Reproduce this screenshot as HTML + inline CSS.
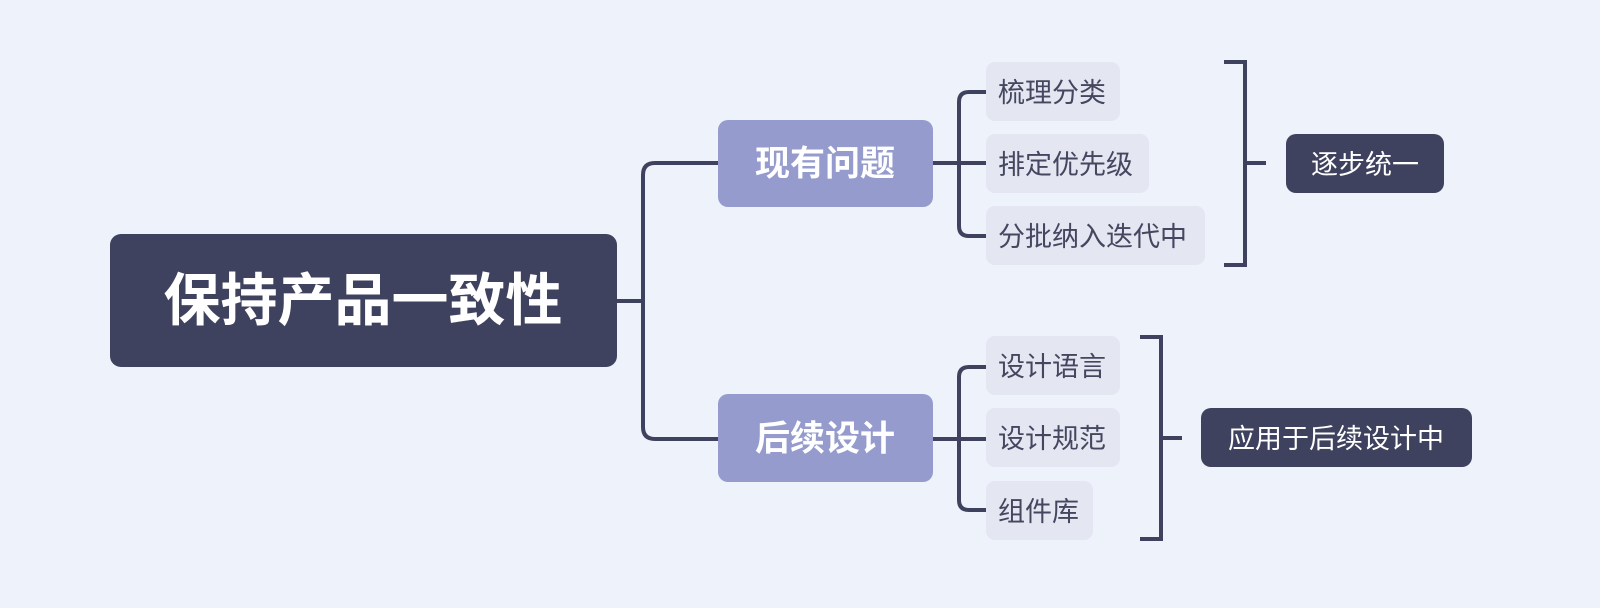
<!DOCTYPE html>
<html><head><meta charset="utf-8"><style>
html,body{margin:0;padding:0;background:#eef2fb;}
svg{display:block}
text{font-family:"Liberation Sans","Noto Sans CJK SC",sans-serif;dominant-baseline:central;text-anchor:middle}
text.l{text-anchor:start}
</style></head><body>
<svg width="1600" height="608" viewBox="0 0 1600 608">
<rect width="1600" height="608" fill="#eef2fb"/>
<g fill="none" stroke="#3f425e" stroke-width="4">
<path d="M617 301 H643"/>
<path d="M718 163 H655 Q643 163 643 175 V427 Q643 439 655 439 H718"/>
<path d="M933 163 H986"/>
<path d="M986 92 H969 Q959 92 959 102 V226 Q959 236 969 236 H986"/>
<path d="M933 439 H986"/>
<path d="M986 367 H969 Q959 367 959 377 V500 Q959 510 969 510 H986"/>
<path d="M1224 62 H1245 V265 H1224"/>
<path d="M1245 163 H1266"/>
<path d="M1140 337 H1161 V539 H1140"/>
<path d="M1161 438 H1182"/>
</g>
<rect x="110" y="234" width="507" height="133" rx="11" fill="#3f425e"/>
<text x="363" y="301" font-size="57" font-weight="bold" fill="#fff">保持产品一致性</text>
<rect x="718" y="120" width="215" height="87" rx="10" fill="#959bcd"/>
<text x="825" y="164" font-size="35" font-weight="bold" fill="#fff">现有问题</text>
<rect x="718" y="394" width="215" height="88" rx="10" fill="#959bcd"/>
<text x="825" y="439" font-size="35" font-weight="bold" fill="#fff">后续设计</text>
<g fill="#e4e6f2">
<rect x="986" y="62" width="134" height="59" rx="9"/>
<rect x="986" y="134" width="163" height="59" rx="9"/>
<rect x="986" y="206" width="219" height="59" rx="9"/>
<rect x="986" y="336" width="134" height="59" rx="9"/>
<rect x="986" y="408" width="134" height="59" rx="9"/>
<rect x="986" y="481" width="107" height="59" rx="9"/>
</g>
<g font-size="27" fill="#44475f">
<text class="l" x="998" y="93">梳理分类</text>
<text class="l" x="998" y="165">排定优先级</text>
<text class="l" x="998" y="237">分批纳入迭代中</text>
<text class="l" x="998" y="367">设计语言</text>
<text class="l" x="998" y="439">设计规范</text>
<text class="l" x="998" y="512">组件库</text>
</g>
<rect x="1286" y="134" width="158" height="59" rx="10" fill="#3f425e"/>
<text x="1365" y="165" font-size="27" fill="#fff">逐步统一</text>
<rect x="1201" y="408" width="271" height="59" rx="10" fill="#3f425e"/>
<text x="1336" y="439" font-size="27" fill="#fff">应用于后续设计中</text>
</svg>
</body></html>
